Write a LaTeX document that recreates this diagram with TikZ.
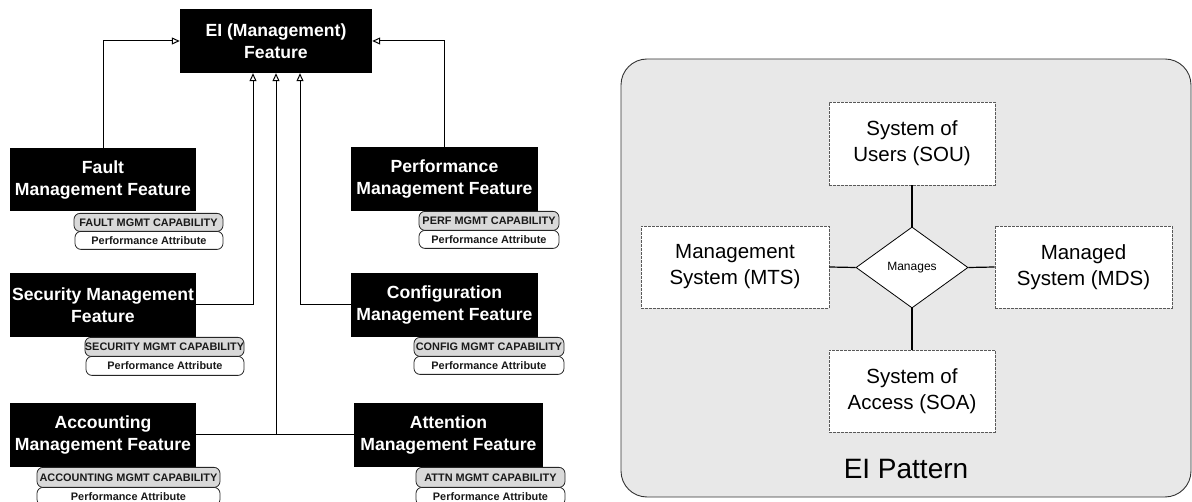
\documentclass[tikz,border=0pt]{standalone}
\usepackage{fontspec}
\setmainfont{Liberation Sans}
\usetikzlibrary{arrows.meta,shapes.geometric}
\definecolor{capgray}{HTML}{D9D9D9}
\definecolor{panelgray}{HTML}{E8E8E8}
\definecolor{pilltext}{HTML}{1A1A1A}
\begin{document}
\begin{tikzpicture}[x=1pt,y=-1pt,
  feat/.style={fill=black, text=white, font=\fontsize{17.6}{22}\selectfont\bfseries, align=center, inner sep=0pt},
  pillcap/.style={draw=black!85, fill=capgray, rounded corners=6pt, line width=0.8pt, font=\fontsize{10.9}{12}\selectfont\bfseries, text=pilltext, inner sep=0pt, anchor=north},
  pillattr/.style={pillcap, fill=white},
  conn/.style={draw=black, line width=1pt},
  inh/.style={conn, -{Triangle[open, length=8pt, width=7pt]}},
  sysbox/.style={draw=black!65, fill=white, dash pattern=on 3pt off 1pt, line width=0.8pt, font=\fontsize{20.5}{26}\selectfont, align=center, inner sep=0pt},
  rel/.style={draw=black, line width=1.2pt}
]
\useasboundingbox (0,0) rectangle (1192,502);
\clip (0,0) rectangle (1192,502);

% ---------- left: feature hierarchy ----------
\node[feat, minimum width=192pt, minimum height=64pt] (ei) at (276,41) {EI (Management)\\Feature};

\node[feat, minimum width=186pt, minimum height=63pt] (fault) at (103,179.5) {Fault\\Management Feature};
\node[feat, minimum width=187pt, minimum height=64pt] (perf) at (444.5,179) {Performance\\Management Feature};
\node[feat, minimum width=186pt, minimum height=64pt] (sec) at (103,305) {Security Management\\Feature};
\node[feat, minimum width=187pt, minimum height=64pt] (conf) at (444.5,305) {Configuration\\Management Feature};
\node[feat, minimum width=186pt, minimum height=64pt] (acc) at (103,435) {Accounting\\Management Feature};
\node[feat, minimum width=189pt, minimum height=64pt] (attn) at (448.5,435) {Attention\\Management Feature};

% capability / attribute pills
\node[pillattr, minimum width=148pt, minimum height=18pt] (fattr) at (149,231) {Performance Attribute};
\node[pillcap, minimum width=149pt, minimum height=18pt] (fcap) at (148.5,213) {FAULT MGMT CAPABILITY};

\node[pillattr, minimum width=140pt, minimum height=18pt] (pattr) at (489,230) {Performance Attribute};
\node[pillcap, minimum width=140pt, minimum height=19pt] (pcap) at (489,211) {PERF MGMT CAPABILITY};

\node[pillattr, minimum width=158pt, minimum height=19pt] (sattr) at (165,356) {Performance Attribute};
\node[pillcap, minimum width=159pt, minimum height=19pt] (scap) at (164.5,337) {SECURITY MGMT CAPABILITY};

\node[pillattr, minimum width=150pt, minimum height=18pt] (cattr) at (489,356) {Performance Attribute};
\node[pillcap, minimum width=150pt, minimum height=19pt] (ccap) at (489,337) {CONFIG MGMT CAPABILITY};

\node[pillattr, minimum width=183pt, minimum height=18pt] (aattr) at (128.5,487) {Performance Attribute};
\node[pillcap, minimum width=183pt, minimum height=20pt] (acap) at (128.5,467) {ACCOUNTING MGMT CAPABILITY};

\node[pillattr, minimum width=149pt, minimum height=18pt] (tattr) at (490.5,487) {Performance Attribute};
\node[pillcap, minimum width=149pt, minimum height=20pt] (tcap) at (490.5,467) {ATTN MGMT CAPABILITY};

% connectors (generalisation)
\draw[inh] (fault.north) |- (ei.west);
\draw[inh] (perf.north) |- (ei.east);
\draw[inh] (sec.east) -| (ei.south -| 253,0);
\draw[inh] (conf.west) -| (ei.south -| 300,0);
\draw[inh] (acc.east) -| (ei.south);
\draw[conn] (attn.west) -- (acc.east -| ei.south);

% ---------- right: EI pattern ----------
\draw[draw=black!80, fill=panelgray, rounded corners=26pt, line width=0.9pt] (621,59) rectangle (1191,497);

\node[sysbox, minimum width=166pt, minimum height=83pt] (sou) at (912,143.5) {System of\\Users (SOU)};
\node[sysbox, minimum width=188pt, minimum height=82pt] (mts) at (735,267) {Management\\System (MTS)};
\node[sysbox, minimum width=177pt, minimum height=82pt] (mds) at (1083.5,267) {Managed\\System (MDS)};
\node[sysbox, minimum width=166pt, minimum height=82pt] (soa) at (912,391) {System of\\Access (SOA)};
\node[diamond, draw=black, fill=white, line width=0.8pt, inner sep=0pt, minimum width=112pt, minimum height=81pt, font=\fontsize{12}{14}\selectfont] (man) at (912,267.5) {Manages};

\draw[rel] (sou.south) -- (man.north);
\draw[rel] (man.south) -- (soa.north);
\draw[rel] (mts.east) -- (man.west);
\draw[rel] (man.east) -- (mds.west);

\node[font=\fontsize{28}{32}\selectfont, inner sep=0pt] (title) at (906,469) {EI Pattern};
\end{tikzpicture}
\end{document}
